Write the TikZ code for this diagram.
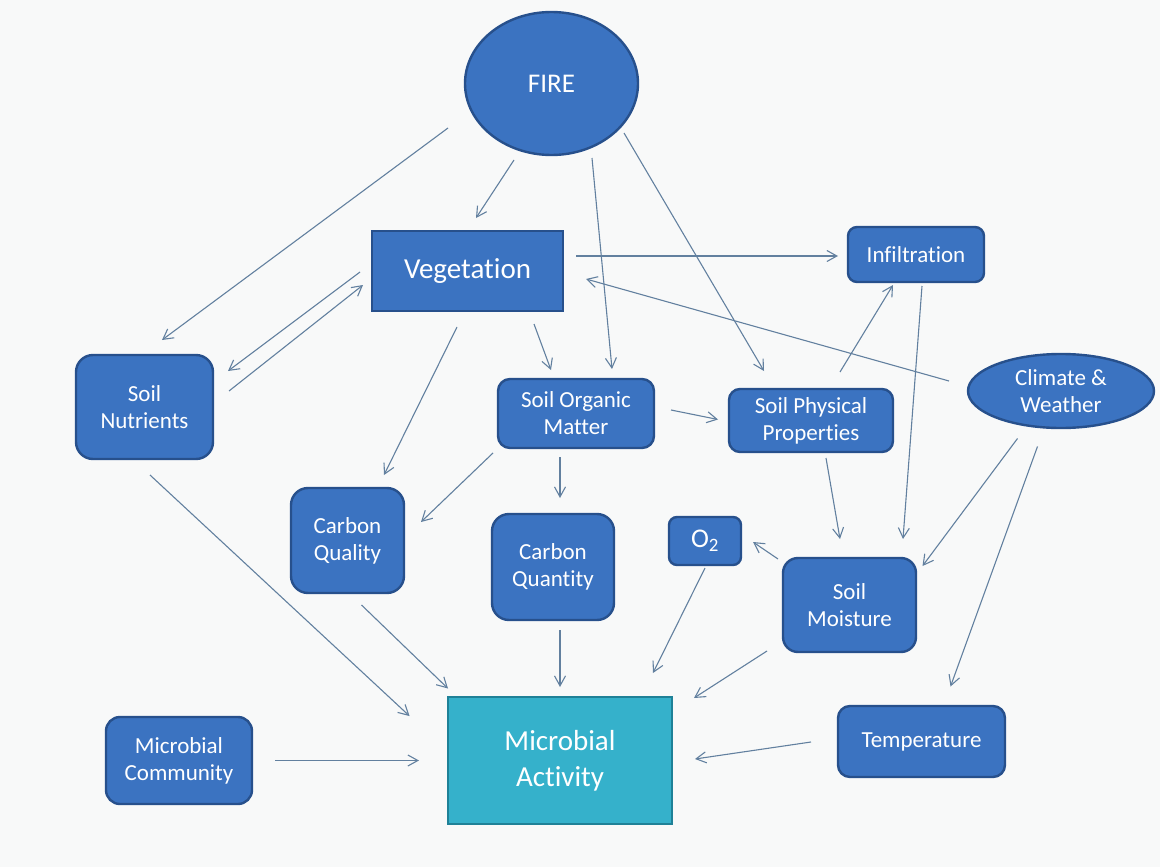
\documentclass[tikz,border=0pt]{standalone}
\usepackage{fontspec}
\setmainfont{Carlito}[Ligatures=NoCommon]
\usepackage{tikz}
\usetikzlibrary{arrows.meta}
\usetikzlibrary{shapes.geometric}
\definecolor{nodeblue}{HTML}{3B73C1}
\definecolor{edgeblue}{HTML}{27508C}
\definecolor{actcyan}{HTML}{35B1CB}
\definecolor{actedge}{HTML}{1F8197}
\definecolor{linegray}{HTML}{62809F}
\definecolor{paper}{HTML}{F8F9F9}
\tikzset{l/.style={font=\fontsize{29}{36}\selectfont}}
\tikzset{m/.style={font=\fontsize{23}{27}\selectfont}}
\tikzset{rbox/.style={draw=edgeblue, fill=nodeblue, text=white, line width=2.4pt,
    inner sep=0pt, outer sep=0pt, align=center, rounded corners=#1}, rbox/.default=12pt}
\tikzset{oval/.style={ellipse, draw=edgeblue, fill=nodeblue, text=white, line width=2.4pt,
    inner sep=0pt, outer sep=0pt, align=center}}
\tikzset{arr/.style={-{Straight Barb[length=10pt,width=11pt]}, draw=linegray, line width=1.1pt}}

\begin{document}
\begin{tikzpicture}[x=1pt,y=-1pt]
    \useasboundingbox (0,0) rectangle (1160,867);
    \fill[paper] (0,0) rectangle (1160,867);
    % top row
    \node[oval, minimum width=173pt, minimum height=143pt, font=\fontsize{27}{32}\selectfont] (fire) at (551.5,83.5) {FIRE};
    \node[rbox, sharp corners, l, minimum width=191pt, minimum height=80pt] (veg) at (467.5,271) {Vegetation};
    \node[rbox=9pt, m, minimum width=136pt, minimum height=55pt] (inf) at (916,254.5) {Infiltration};
    % middle
    \node[rbox=17pt, m, minimum width=137pt, minimum height=104pt] (sn) at (144.5,407) {Soil\\Nutrients};
    \node[rbox=12pt, m, minimum width=156pt, minimum height=69pt] (som) at (576,413.5) {Soil Organic\\Matter};
    \node[rbox=11pt, m, minimum width=164pt, minimum height=63pt] (spp) at (811,420.5) {Soil Physical\\Properties};
    \node[oval, m, minimum width=186pt, minimum height=74pt] (clim) at (1061,391) {Climate \&\\Weather};
    \node[rbox=17pt, m, minimum width=113pt, minimum height=105pt] (cql) at (347.5,540.5) {Carbon\\Quality};
    \node[rbox=17pt, m, minimum width=122pt, minimum height=106pt] (cqn) at (553,567) {Carbon\\Quantity};
    \node[rbox=8pt, minimum width=72pt, minimum height=48pt, font=\fontsize{27}{32}\selectfont] (o2) at (705,541) {O\textsubscript{2}};
    \node[rbox=15pt, m, minimum width=133pt, minimum height=94pt] (sm) at (849.5,605) {Soil\\Moisture};
    % bottom row
    \node[rbox, sharp corners, l, fill=actcyan, draw=actedge, minimum width=224pt, minimum height=127pt] (ma) at (560,760.5) {Microbial\\Activity};
    \node[rbox=14pt, m, minimum width=146pt, minimum height=87pt] (mc) at (179,760.5) {Microbial\\Community};
    \node[rbox=12pt, m, minimum width=167pt, minimum height=71pt] (tmp) at (921.5,741.5) {Temperature};

    % what fire acts on
    \draw[arr] ([xshift=-103.5pt,yshift=-44.5pt]fire.center) -- ([xshift=17.5pt,yshift=67pt]sn.center);
    \draw[arr] ([xshift=-37.5pt,yshift=-76.5pt]fire.center) -- ([xshift=8.5pt,yshift=53pt]veg.center);
    \draw[arr] ([xshift=40.5pt,yshift=-74.5pt]fire.center) -- ([xshift=36pt,yshift=44.5pt]som.center);
    \draw[arr] ([xshift=72.5pt,yshift=-49.5pt]fire.center) -- ([xshift=-47pt,yshift=49.5pt]spp.center);
    % vegetation
    \draw[arr] ([xshift=108.5pt,yshift=15pt]veg.center) -- ([xshift=-78pt,yshift=-1.5pt]inf.center);
    \draw[arr] ([xshift=-112pt,yshift=10pt]clim.center) -- ([xshift=118.5pt,yshift=-8pt]veg.center);
    \draw[arr] ([xshift=-107.5pt,yshift=-1pt]veg.center) -- ([xshift=83.5pt,yshift=36pt]sn.center);
    \draw[arr] ([xshift=84.5pt,yshift=16pt]sn.center) -- ([xshift=-104.5pt,yshift=-14pt]veg.center);
    \draw[arr] ([xshift=66.5pt,yshift=-53pt]veg.center) -- ([xshift=-25pt,yshift=43.5pt]som.center);
    \draw[arr] ([xshift=-10.5pt,yshift=-56pt]veg.center) -- ([xshift=36.5pt,yshift=65.5pt]cql.center);
    % soil organic matter
    \draw[arr] ([xshift=95pt,yshift=3.5pt]som.center) -- ([xshift=-93pt,yshift=1pt]spp.center);
    \draw[arr] ([xshift=-83pt,yshift=-39.5pt]som.center) -- ([xshift=73.5pt,yshift=18.5pt]cql.center);
    \draw[arr] ([xshift=-16pt,yshift=-43.5pt]som.center) -- ([xshift=7pt,yshift=69pt]cqn.center);
    % water and climate
    \draw[arr] ([xshift=29pt,yshift=48.5pt]spp.center) -- ([xshift=-23pt,yshift=-30.5pt]inf.center);
    \draw[arr] ([xshift=6pt,yshift=-31.5pt]inf.center) -- ([xshift=53.5pt,yshift=66pt]sm.center);
    \draw[arr] ([xshift=15pt,yshift=-37.5pt]spp.center) -- ([xshift=-9.5pt,yshift=66pt]sm.center);
    \draw[arr] ([xshift=-43.5pt,yshift=-47.5pt]clim.center) -- ([xshift=73pt,yshift=39pt]sm.center);
    \draw[arr] ([xshift=-23.5pt,yshift=-55.5pt]clim.center) -- ([xshift=29pt,yshift=55pt]tmp.center);
    \draw[arr] ([xshift=-71.5pt,yshift=46pt]sm.center) -- ([xshift=48pt,yshift=-1pt]o2.center);
    % into microbial activity
    \draw[arr] ([yshift=-27pt]o2.center) -- ([xshift=93pt,yshift=87.5pt]ma.center);
    \draw[arr] ([xshift=-82.5pt,yshift=-46pt]sm.center) -- ([xshift=134pt,yshift=62.5pt]ma.center);
    \draw[arr] ([xshift=-110.5pt,yshift=-0.5pt]tmp.center) -- ([xshift=135pt,yshift=1.5pt]ma.center);
    \draw[arr] ([xshift=7pt,yshift=-63pt]cqn.center) -- ([yshift=73.5pt]ma.center);
    \draw[arr] ([xshift=14pt,yshift=-64.5pt]cql.center) -- ([xshift=-112pt,yshift=72pt]ma.center);
    \draw[arr] ([xshift=5.5pt,yshift=-68pt]sn.center) -- ([xshift=-150.5pt,yshift=44.5pt]ma.center);
    \draw[arr] ([xshift=96pt]mc.center) -- ([xshift=-141pt]ma.center);
\end{tikzpicture}
\end{document}
